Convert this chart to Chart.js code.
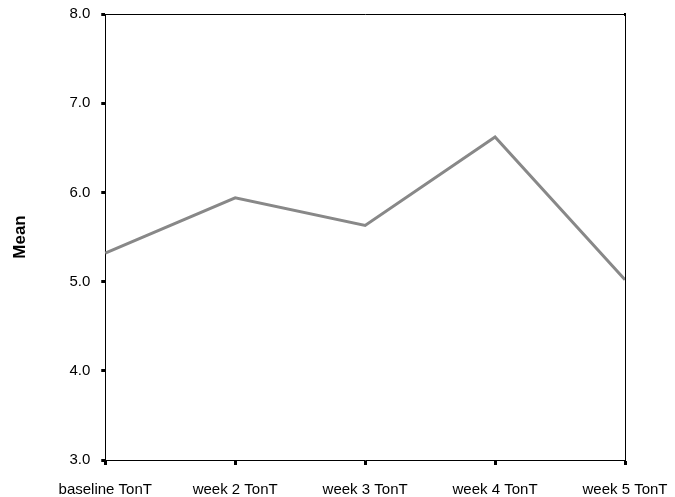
<!DOCTYPE html>
<html>
<head>
<script src="https://cdn.jsdelivr.net/npm/chart.js@4"></script>
<style>
html, body { margin: 0; padding: 0; background: #fff; }
#wrap { width: 675px; height: 497px; }
</style>
</head>
<body>
<div id="wrap"><canvas id="c"></canvas></div>
<script>
const categories = ['baseline TonT', 'week 2 TonT', 'week 3 TonT', 'week 4 TonT', 'week 5 TonT'];
const means = [5.32, 5.94, 5.63, 6.62, 5.02];

// draw the top and right edges of the frame
const frame = {
    id: 'frame',
    afterDraw(chart) {
        const a = chart.chartArea, ctx = chart.ctx;
        ctx.save();
        ctx.strokeStyle = '#000';
        ctx.lineWidth = 1;
        ctx.beginPath();
        ctx.moveTo(a.left, a.top + 0.5);
        ctx.lineTo(a.right + 0.5, a.top + 0.5);
        ctx.lineTo(a.right + 0.5, a.bottom);
        ctx.stroke();
        ctx.fillStyle = '#000';
        ctx.fillRect(a.right - 1, a.top - 1, 2, 3);
        ctx.restore();
    }
};

new Chart(document.getElementById('c'), {
    type: 'line',
    data: {
        labels: categories,
        datasets: [{
            data: means,
            borderColor: '#888888',
            borderWidth: 3,
            pointRadius: 0,
            tension: 0
        }]
    },
    options: {
        responsive: true,
        maintainAspectRatio: false,
        animation: false,
        layout: { padding: { top: 14, right: 50, bottom: -18, left: 6 } },
        plugins: { legend: { display: false }, tooltip: { enabled: false } },
        scales: {
            x: {
                offset: false,
                afterFit: s => { s.paddingRight = 0; s.paddingLeft = 0; },
                grid: { drawOnChartArea: false, tickLength: 5, tickWidth: 3, color: '#000' },
                border: { color: '#000', width: 1 },
                ticks: { color: '#000', font: { family: 'Liberation Sans', size: 15 }, maxRotation: 0, padding: 16 }
            },
            y: {
                min: 3, max: 8,
                afterFit: s => { s.paddingTop = 0; s.paddingBottom = 0; },
                grid: { drawOnChartArea: false, tickLength: 4, tickWidth: 3, color: '#000' },
                border: { color: '#000', width: 1 },
                ticks: { stepSize: 1, color: '#000', font: { family: 'Liberation Sans', size: 15 },
                         callback: v => v.toFixed(1), padding: 11 },
                title: { display: true, text: 'Mean', color: '#000',
                         font: { family: 'Liberation Sans', size: 17, weight: 'bold' }, padding: { bottom: 28 } }
            }
        }
    },
    plugins: [frame]
});
</script>
</body>
</html>
